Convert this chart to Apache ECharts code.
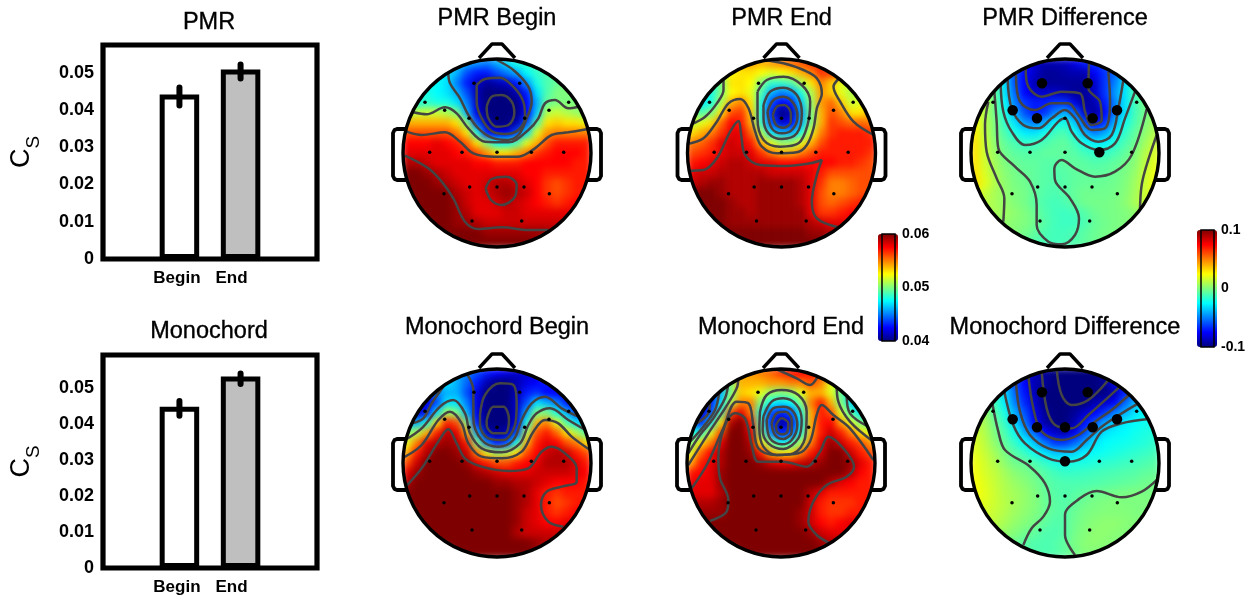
<!DOCTYPE html>
<html><head><meta charset="utf-8">
<style>html,body{margin:0;padding:0;background:#fff}#c{width:1250px;height:600px}
#c canvas[data-zr-dom-id="zr_0"]{filter:blur(3.6px)}</style>
<script src="https://cdn.jsdelivr.net/npm/echarts@6/dist/echarts.min.js"></script>
</head><body><div id="c"></div>
<script>
// ---------- bar panels ----------
const barCategories = ['', '', 'Begin', '', 'End', '', ''];
const pmrMeans = {Begin: 0.0441, End: 0.0508};
const pmrErrors = {Begin: [0.0412, 0.0460], End: [0.0484, 0.0522]};
const monoMeans = {Begin: 0.0448, End: 0.0532};
const monoErrors = {Begin: [0.0423, 0.0464], End: [0.0511, 0.0540]};

// ---------- electrodes, shared by all scalp maps (x, y in map units) ----------
const electrodes = [[-69,209],[68,209],[-216,152],[215,152],[-157,128],[-84,104],[0,104],[83,104],[156,128],
  [-202,2],[-105,2],[0,2],[103,2],[200,2],[-159,-122],[-82,-102],[0,-102],[81,-102],[157,-122],[-75,-204],[74,-204]];
const pmrSignificant = [0,1,4,5,7,8,12];
const monoSignificant = [0,1,4,5,6,7,8,11];

// ---------- scalp values, in thousandths, rows from front to back ----------
const pmrBegin = [
[47,46,45.5,45,46,47,48,48.5,49],
[47.5,47,46,44,43,43,44,45,46,47.5,48.5,49,49.5],
[48,47.5,47,45,43,41.5,40.5,41,41.5,43,45.5,48,49,49.5,50],
[48,48,47.5,47,46,44,41,40,40,40,41,43,47,49,50,50,50],
[49,48,48.5,48,48,47,45,41.5,40,40,40,40,42.5,46,49.5,50,50,50,50],
[50,51.5,51.5,51.5,51,50,46,42,40,40,40,40,42.5,46.5,51,51.5,51,50.5,50],
[54,54,54,54,54,53,50,44,41,40,40,41,44,49,53,53.5,53,53,52],
[56,56,56,56,56,55,53,48,43,42,42,44,47,52,54.5,55,55,55,55],
[57.5,57.5,57.5,58,57.5,57,55.5,53,50,47.5,47.5,49,52,54,56,57,57,57,57],
[58,58,58,58,58,57.5,57,56,54.5,53,53,54,55,56.5,57,57.5,57.5,57.5,57],
[59,59,58.5,58,58,58,58,57.5,57.5,57,57,57,57.5,57.5,57.5,57.5,57.5,57,57],
[60,60,59.5,59,58.5,58,58,58,58,58,58,58,57.5,57.5,57,57,57,57,57],
[60,60,60,59.5,59,58.5,58,58,58.5,59,59,58.5,58,57.5,56.5,56,56.5,57,57],
[60,60,60,60,60,59,58.5,58,58.5,59,59.5,59,58.5,57.5,56.5,56,56.5,57,57],
[60,60,60,60,60,59.5,58.5,58,58,58.5,59,58.5,58,57.5,57,56.5,57,57.5,57.5],
[60,60,60,60,59.5,59,58,58,58,58.5,58.5,58,58,58,58,58,58],
[60,60,60,59.5,59.5,59,58.5,58.5,58.5,58.5,58.5,58.5,58.5,58.5,58.5],
[60,60,60,60,60,59.5,59.5,59.5,59.5,59.5,59.5,59.5,59],
[60,60,60,60,60,60,60,60,59.5]];
const pmrEnd = [
[54,54.5,54,54.5,55,55.5,56,56.5,57],
[51,52.5,53,53,52.5,52,52.5,53,54,55,56.5,56.5,56],
[48,50,53,53,52.5,50,48.5,48.5,49,51,53,55,53.5,52,51],
[47,48,50,52.5,53,52,49,46,45,45.5,48,51,54.5,53.5,52,51,51],
[46,47,48,51,54,55,53,48,44,42.5,43,46.5,50.5,54.5,55.5,53.5,51.5,52,53],
[51,49,50,53,56,56.5,53.5,48,43,40,41,45.5,50,54,56,55,53,53,54],
[51,52,53,55.5,57.5,57,54,48.5,44,41.5,42.5,46,50,54,56.5,56,55.5,55.5,55],
[53,54,55,56.5,58,58,55.5,51,47,46,46,48,52,55,56.5,57,57,57,56.5],
[55,55.5,56.5,58,58.5,58,57,54,52,50.5,50.5,52,54,56,57,57,57,57,57],
[56,56.5,57,58,58.5,58.5,58,56.5,55,54,54,55,56,57,57,57,57,57,56.5],
[57,57.5,58,58.5,59,59,58.5,58,58,57.5,57.5,57.5,57.5,57.5,57.5,57,57,56.5,56],
[58,58.5,58.5,59,59,59,59,59,58.5,58.5,58.5,58.5,58,57,56,56,56,56,56],
[58.5,59,59.5,59.5,59,59,59,59.5,59.5,59.5,59.5,59,58,56.5,55,55,55.5,56,56],
[60,60,60,59.5,59,59,59,59.5,59.5,59.5,59.5,59,58,56,55,55,55.5,56,56],
[60,60,60,60,59.5,59,59,59.5,59.5,59.5,59.5,59,58,56,55.5,56,56.5,57,57],
[60,60,60,59.5,59.5,59,59.5,59.5,59.5,59.5,59.5,58,56.5,56.5,57,57.5,57.5],
[60,60,59.5,59.5,59.5,59.5,59.5,59.5,59.5,59.5,59,58.5,58,58,58],
[60,60,60,60,60,60,60,60,60,59.5,59.5,59,59],
[60,60,60,60,60,60,60,60,60]];
const pmrDiff = [
[-75,-85,-90,-90,-88,-80,-70,-65,-60],
[-35,-60,-75,-85,-95,-95,-92,-90,-90,-75,-65,-55,-40],
[-10,-30,-60,-75,-90,-95,-95,-95,-95,-95,-85,-65,-50,-30,-15],
[5,-5,-30,-55,-75,-85,-85,-85,-90,-95,-95,-85,-65,-45,-30,-10,-5],
[22,15,-3,-25,-50,-65,-70,-70,-65,-65,-80,-95,-90,-70,-50,-30,-12,-2,3],
[22,10,-3,-20,-40,-60,-70,-65,-50,-40,-55,-85,-95,-75,-50,-30,-12,-3,5],
[25,12,0,-15,-30,-45,-50,-40,-25,-20,-35,-60,-75,-65,-40,-22,-10,0,8],
[28,13,0,-10,-20,-28,-30,-22,-12,-10,-22,-40,-50,-42,-28,-15,-6,3,10],
[30,15,3,-6,-10,-15,-14,-10,-7,-6,-12,-22,-28,-27,-18,-10,-4,6,15],
[30,15,5,-3,-7,-8,-8,-6,-6,-6,-8,-12,-15,-15,-11,-6,0,10,18],
[30,16,7,0,-4,-6,-6,-8,-8,-6,-6,-7,-9,-8,-6,-3,2,12,20],
[30,18,8,2,-2,-5,-6,-8,-9,-8,-6,-6,-6,-6,-4,-1,4,14,22],
[32,20,10,3,-1,-3,-6,-8,-9,-8,-6,-5,-5,-4,-3,0,6,15,22],
[22,14,8,4,0,-2,-6,-9,-10,-8,-5,-3,-3,-3,-2,1,7,15,20],
[16,12,8,4,1,-2,-7,-10,-12,-10,-6,-3,-2,-2,-1,2,8,15,18],
[10,8,6,3,0,-4,-9,-12,-13,-12,-8,-4,-2,-1,0,3,8],
[5,4,2,0,-3,-8,-12,-13,-13,-10,-5,-3,-1,0,2],
[3,1,-2,-6,-10,-12,-12,-10,-7,-4,-2,-1,0],
[-6,-9,-11,-12,-11,-9,-6,-4,-2]];
const monoBegin = [
[46,45,44,43,42.5,42,41.5,41.5,42],
[47,47,46,44.5,43,41,40,40,41,42,42.5,43,43],
[42,45,46,46,44,42,40,40,40,41,43,43.5,42.5,42.5,42],
[41,42,44,47,47,45,42,40,40,40,41.5,44,47,46,45,43,42],
[41,41.5,43,47,51,50,46,42,40,40,40,41.5,46,50,50,48,46,44,43],
[46,46,48,53,57,56,50,43,40,40,40,42,48,54,55,52,49,47,46],
[50,51,54,57,59,58,54,46,41,40.5,41,44,51,56,57,55.5,53,51,49],
[52,55,58,59,59.5,59,57,50,45,43,44,48,54,57,58,57.5,56,55,53],
[54,57,59,60,60,59.5,58.5,55,52,50.5,51,53,56,57.5,58.5,59,58.5,57,56],
[56,58.5,60,60,60,60,59.5,58,57,56,56,57,57.5,58,59,59,59,58,57],
[58,59.5,60,60,60,60,60,59.5,59,58.5,58,58,58,58.5,58.5,58.5,58.5,58,57.5],
[59,60,60,60,60,60,60,60,60,59.5,59.5,59,59,58.5,58,57.5,57.5,57.5,57],
[60,60,60,60,60,60,60,60,60,60,60,59.5,59,58,57,56.5,57,57,57],
[60,60,60,60,60,60,60,60,60,60,60,59.5,59,58,57,56,56.5,57,57],
[60,60,60,60,60,60,60,60,60,60,60,59.5,58.5,58,57,56.5,57,57.5,57.5],
[60,60,60,60,60,60,60,60,60,60,59.5,58.5,58,57.5,57.5,58,58],
[60,60,60,60,60,60,60,60,60,59,58.5,58.5,58.5,58.5,58.5],
[60,60,60,60,60,60,60,60,60,60,59.5,59,59],
[60,60,60,60,60,60,60,60,59.5]];
const monoEnd = [
[54,54.5,55,55.5,56.5,57,57.5,57,56.5],
[46,50,54,54,54,54.5,54.5,55,55,56,55,52,50],
[43,46,50,53.5,53,52,50.5,50,50.5,52,54,54,52,49.5,47],
[41,43,47,51,55,55,50,47.5,47,47.5,50,55,57,54,50,47,45],
[42,41.5,44,49,56,58,55,48,44,43,44,48,54,57,56,52,49,47,47],
[46,43,47,53,59,60,57,49,43.5,40.5,42,47,54,57,57.5,54.5,52,50,49],
[48,48,52,56,60,60,58,50,45,43,44,48,54,57,58.5,57,55,53,52],
[50,53,55,58,60,60,59,53,50,47.5,48.5,51,55,58,59.5,58.5,57,56,54.5],
[52,55.5,57.5,59,60,60,59.5,57,54,53,53,55,57,58.5,60,60,58.5,57,56],
[54,57,58,59,60,60,60,59.5,58.5,58,58,58.5,59,59.5,60,60,59.5,58,57],
[57,57.5,58,59.5,60,60,60,60,60,60,60,60,60,60,60,60,59,57.5,57],
[58,58,58,59.5,60,60,60,60,60,60,60,60,60,60,59,58,57.5,57,57],
[58,58,58,59,60,60,60,60,60,60,60,60,59,58,57,57,57,57,57],
[59,59,59,59.5,60,60,60,60,60,60,60,60,58.5,57,56.5,56.5,56.5,57,57],
[59.5,59.5,59.5,59.5,60,60,60,60,60,60,60,59.5,58.5,57,56.5,56.5,57,57,57.5],
[60,60,60,60,60,60,60,60,60,60,59.5,58.5,57.5,57,57.5,58,58],
[60,60,60,60,60,60,60,60,60,60,59.5,58.5,58,58,58],
[60,60,60,60,60,60,60,60,60,60,59.5,59,59],
[60,60,60,60,60,60,60,60,60]];
const monoDiff = [
[-85,-90,-95,-100,-100,-100,-100,-100,-100],
[-40,-60,-75,-90,-95,-100,-100,-100,-100,-100,-95,-80,-70],
[-15,-32,-55,-72,-90,-100,-100,-100,-100,-100,-100,-100,-90,-70,-50],
[0,-12,-28,-50,-68,-85,-100,-100,-100,-100,-100,-90,-85,-75,-55,-40,-30],
[10,5,-8,-20,-40,-60,-80,-95,-100,-100,-95,-85,-75,-65,-50,-40,-30,-24,-22],
[12,8,-3,-15,-32,-52,-75,-92,-100,-100,-90,-72,-58,-42,-34,-28,-25,-22,-20],
[16,10,0,-10,-22,-40,-55,-75,-85,-90,-78,-60,-42,-30,-27,-25,-22,-20,-18],
[18,12,3,-6,-15,-25,-37,-52,-65,-65,-55,-42,-30,-25,-23,-22,-20,-18,-15],
[20,14,7,-1,-8,-14,-22,-30,-36,-36,-32,-27,-24,-22,-20,-18,-16,-14,-12],
[22,16,10,3,-3,-5,-10,-15,-20,-22,-20,-20,-18,-16,-15,-13,-12,-10,-8],
[23,17,13,7,2,-1,-4,-8,-12,-14,-14,-13,-12,-11,-10,-9,-8,-6,-5],
[24,19,14,9,5,2,-2,-6,-9,-10,-10,-10,-9,-8,-7,-6,-5,-3,-2],
[24,20,15,10,7,4,0,-5,-8,-9,-8,-6,-4,-3,-2,-1,0,-1,-1],
[22,19,15,11,7,4,1,-4,-7,-8,-6,-3,-1,0,1,0,0,0,0],
[20,17,14,10,6,3,0,-4,-7,-8,-4,-1,0,1,1,1,0,0,0],
[16,12,8,4,1,-2,-6,-9,-8,-3,0,2,3,3,2,1,0],
[8,4,1,-3,-6,-9,-10,-8,-2,1,3,3,2,1,0],
[-2,-4,-7,-9,-10,-9,-6,-1,2,3,2,1,0],
[-8,-9,-10,-9,-6,-2,1,1,0]];

// ---------- contour lines (x, y in map units) ----------
const pmrBeginContours = [
[[-1,279],[49,249],[94,199],[104,154],[89,104],[64,54],[29,39],[-16,46],[-56,74],[-86,114],[-111,164],[-141,209],[-146,239]],
[[-61,204],[-36,222],[9,226],[49,199],[79,154],[84,109],[64,69],[24,57],[-16,66],[-46,104],[-61,154],[-61,204]],
[[-31,139],[-16,169],[14,174],[44,154],[52,119],[34,84],[-1,79],[-26,104],[-31,139]],
[[-251,122],[-211,116],[-156,137],[-121,119],[-86,74],[-36,34],[34,32],[94,69],[124,104],[144,149],[174,159],[214,134],[244,139]],
[[-271,64],[-226,54],[-156,62],[-111,34],[-71,-1],[-6,-11],[64,-11],[114,14],[164,54],[214,62],[269,71]],
[[-276,-8],[-206,-46],[-166,-86],[-131,-136],[-96,-206],[-56,-228],[14,-223],[94,-231],[154,-231]],
[[-34,-106],[-16,-78],[29,-71],[59,-96],[54,-131],[14,-156],[-18,-141],[-34,-106]]];
const pmrEndContours = [
[[-174,224],[-174,189],[-194,149],[-229,109],[-269,87]],
[[-282,27],[-234,44],[-194,94],[-159,149],[-124,162],[-99,134],[-79,64],[-59,19],[-14,-1],[46,2],[76,24],[96,74],[106,134],[121,179],[106,224],[66,249],[6,269],[-54,279]],
[[171,222],[156,199],[176,154],[216,94],[276,54]],
[[-277,-53],[-234,-51],[-194,-16],[-154,64],[-129,96],[-121,54],[-109,-6],[-64,-36],[16,-39],[86,-31],[121,-21],[106,-66],[91,-146],[106,-196],[171,-223]],
[[-72,184],[-44,219],[6,229],[61,204],[86,154],[78,84],[51,29],[-4,19],[-54,39],[-72,104],[-72,184]],
[[-54,144],[-34,184],[6,196],[46,174],[61,119],[46,59],[1,42],[-39,59],[-54,104],[-54,144]],
[[-42,124],[-24,159],[6,169],[36,149],[48,109],[31,69],[1,59],[-29,74],[-42,124]],
[[-26,114],[-14,139],[8,144],[28,119],[28,94],[6,76],[-16,84],[-26,114]]];
const pmrDiffContours = [
[[-230,154],[-240,84],[-235,4],[-205,-76],[-182,-136],[-185,-206]],
[[-212,184],[-205,94],[-200,14],[-150,-41],[-105,-86],[-85,-156],[-85,-216],[-50,-266],[-10,-274],[30,-246],[42,-196],[15,-136],[-30,-81],[-32,-46],[-10,-21],[30,-46],[90,-71],[150,-56],[200,-6],[245,132]],
[[275,54],[245,-36],[230,-96],[225,-166]],
[[-193,204],[-185,124],[-160,64],[-120,24],[-70,39],[-20,94],[0,104],[20,64],[50,29],[100,9],[150,29],[180,104],[210,184]],
[[-172,219],[-160,134],[-125,84],[-80,74],[-40,104],[0,129],[30,104],[60,54],[100,34],[140,54],[160,134],[175,219]],
[[-147,234],[-135,154],[-90,129],[-40,149],[10,149],[40,114],[80,69],[120,74],[135,154],[130,244]],
[[-118,254],[-110,199],[-70,169],[-10,184],[45,179],[60,124],[80,84],[110,99],[105,154],[70,194],[72,269]]];
const monoBeginContours = [
[[-91,266],[-71,216],[-71,131],[-46,66],[4,46],[49,66],[74,126],[104,176],[144,196],[194,161],[244,136]],
[[-51,141],[-36,201],[9,236],[49,231],[59,171],[54,111],[19,66],[-26,71],[-51,111],[-51,141]],
[[-31,126],[-11,166],[19,166],[36,126],[24,86],[-11,86],[-31,111],[-31,126]],
[[-161,226],[-196,176],[-221,131],[-256,116]],
[[-281,63],[-226,101],[-171,166],[-131,186],[-96,146],[-81,86],[-46,41],[14,29],[69,56],[94,111],[119,146],[159,161],[214,126],[274,91]],
[[-281,13],[-226,51],[-176,126],[-141,151],[-106,116],[-86,56],[-46,16],[14,11],[74,31],[109,91],[144,126],[184,116],[224,76],[279,36]],
[[-271,-71],[-226,-19],[-176,61],[-146,98],[-121,56],[-96,11],[-46,-14],[34,-27],[94,-19],[134,31],[164,46],[204,26],[239,-19],[239,-59],[194,-74],[149,-89],[132,-129],[154,-179],[199,-194]]];
const monoEndContours = [
[[-15,279],[47,251],[87,231],[110,256]],
[[-128,251],[-133,221],[-168,161],[-218,86],[-278,-9]],
[[-158,236],[-168,191],[-203,131],[-243,81],[-278,26]],
[[-185,211],[-198,156],[-233,106],[-273,61]],
[[-213,186],[-218,146],[-253,116]],
[[-268,-79],[-223,-9],[-173,101],[-133,181],[-98,176],[-83,111],[-68,41],[-13,21],[52,26],[87,61],[107,141],[122,171],[157,141],[207,101],[277,6]],
[[-213,-177],[-163,-149],[-158,-114],[-183,-49],[-188,11],[-168,111],[-138,146],[-108,131],[-88,51],[-68,1],[7,1],[77,-14],[117,31],[142,76],[187,41],[219,-14],[197,-44],[137,-69],[97,-119],[82,-179],[107,-219],[147,-244]],
[[167,231],[172,181],[207,121],[277,61]],
[[197,201],[207,146],[262,106]],
[[-63,151],[-43,201],[2,216],[52,201],[77,151],[72,71],[37,26],[-13,21],[-53,46],[-65,101],[-63,151]],
[[-53,136],[-28,181],[7,191],[47,171],[62,126],[52,71],[7,39],[-38,56],[-55,96],[-53,136]],
[[-43,126],[-23,161],[7,166],[37,151],[49,111],[32,66],[2,53],[-33,71],[-43,126]],
[[-28,116],[-13,146],[12,151],[32,126],[32,91],[7,69],[-18,81],[-28,116]],
[[-15,111],[2,131],[22,116],[19,91],[2,83],[-13,93],[-15,111]]];
const monoDiffContours = [
[[-218,176],[-200,91],[-180,36],[-105,-14],[-60,-64],[-45,-119],[-65,-164],[-100,-199],[-125,-249]],
[[30,-279],[0,-219],[0,-159],[45,-109],[95,-87],[170,-106],[230,-89],[280,-49]],
[[-182,211],[-155,111],[-120,56],[-50,11],[10,1],[65,21],[110,91],[170,116],[250,129]],
[[-147,239],[-135,151],[-105,81],[-50,41],[20,31],[65,66],[110,106],[170,146],[220,176]],
[[-110,259],[-95,161],[-70,91],[-10,66],[40,81],[90,121],[140,156],[192,201]],
[[-70,271],[-55,161],[-30,111],[20,101],[70,141],[165,226]],
[[-25,279],[-10,201],[20,171],[70,186],[130,246]]];

// ---------- colour bar ticks ----------
const levelRange = [0.04, 0.06, 0.01];
const differenceRange = [-0.1, 0.1, 0.1];

// ---------- layout and styling ----------
const FONT = '"Liberation Sans", Arial, sans-serif';
const JET = ['#00007f','#0000ff','#007fff','#00ffff','#7fff7f','#ffff00','#ff7f00','#ff0000','#7f0000'];
const FILLS = {Begin:'#ffffff', End:'#bfbfbf'};
const CELLS = 19, CELL = 10, HALF = 100, TOP = 1;
const maps = [
 {title:'PMR Begin',  rows:pmrBegin, contours:pmrBeginContours, cx:497, cy:153, kind:0},
 {title:'PMR End',    rows:pmrEnd,   contours:pmrEndContours,   cx:781.5, cy:153, kind:0},
 {title:'PMR Difference', rows:pmrDiff, contours:pmrDiffContours, cx:1065, cy:153, kind:1, big:pmrSignificant},
 {title:'Monochord Begin', rows:monoBegin, contours:monoBeginContours, cx:497, cy:463, kind:0},
 {title:'Monochord End', rows:monoEnd, contours:monoEndContours, cx:781, cy:463, kind:0},
 {title:'Monochord Difference', rows:monoDiff, contours:monoDiffContours, cx:1065, cy:463, kind:1, big:monoSignificant}];

const grids=[], xAxes=[], yAxes=[], series=[], titles=[], graphics=[];
const heatIdx=[[],[]];
const T=(text,x,top,size)=>titles.push({text,left:x,top,textAlign:'center',padding:0,z:20,zlevel:TOP,
  textStyle:{fontFamily:FONT,fontSize:size,fontWeight:'normal',color:'#000',textBorderColor:'#000',textBorderWidth:0.35}});
function addGrid(g,x,y,zlevel){g.zlevel=zlevel;grids.push(g);
  xAxes.push(Object.assign({gridIndex:grids.length-1,zlevel},x));yAxes.push(Object.assign({gridIndex:grids.length-1,zlevel},y));return grids.length-1;}

function barPanel(title,means,errors,top,h,ymax,titleTop,labelPad){
  T(title,209,titleTop,23.5);
  const g=addGrid({left:103,top,width:214,height:h,show:true,borderColor:'#000',borderWidth:5.2,backgroundColor:'#fff',z:1},
   {type:'category',data:barCategories,axisLine:{show:false},axisTick:{show:false},
    axisLabel:{interval:0,margin:11,color:'#000',fontFamily:FONT,fontSize:17,fontWeight:'bold',
      formatter:v=>v==='Begin'?'{b|Begin}':v==='End'?'{e|End}':'',
      rich:{b:{fontFamily:FONT,fontSize:17,fontWeight:'bold',color:'#000',padding:[0,5,0,0]},e:{fontFamily:FONT,fontSize:17,fontWeight:'bold',color:'#000',padding:[0,18,0,0]}}}},
   {type:'value',min:0,max:ymax,interval:0.01,splitLine:{show:false},axisLine:{show:false},axisTick:{show:false},
    name:'{c|C}{s|S}',nameLocation:'middle',nameRotate:90,nameGap:60,
    nameTextStyle:{rich:{c:{fontFamily:FONT,fontSize:27,color:'#000'},s:{fontFamily:FONT,fontSize:19,color:'#000',padding:[24,0,0,0]}}},
    axisLabel:{showMaxLabel:false,margin:9,padding:[labelPad,0,0,0],color:'#000',fontFamily:FONT,fontSize:18,fontWeight:'bold',formatter:v=>String(+v.toFixed(2))}},TOP);
  series.push({type:'bar',xAxisIndex:g,yAxisIndex:g,barWidth:39.5,z:3,zlevel:TOP,
    data:barCategories.map(c=>c?{value:means[c],itemStyle:{color:FILLS[c],borderColor:'#000',borderWidth:5}}:null)});
  series.push({type:'custom',xAxisIndex:g,yAxisIndex:g,z:4,zlevel:TOP,encode:{x:0,y:[1,2]},
    data:barCategories.map((c,i)=>c?[i,errors[c][0],errors[c][1]]:null).filter(Boolean),
    renderItem:(p,api)=>{const a=api.coord([api.value(0),api.value(1)]),b=api.coord([api.value(0),api.value(2)]);
      return {type:'line',shape:{x1:a[0],y1:a[1],x2:b[0],y2:b[1]},style:{stroke:'#000',lineWidth:6,lineCap:'round'}};}});
}
barPanel('PMR',pmrMeans,pmrErrors,45,214,0.0574,11,3);
barPanel('Monochord',monoMeans,monoErrors,355,213,0.05917,320,4);

maps.forEach(m=>{
  T(m.title,m.cx,m.cy<300?7:316,23.5);
  const cats=Array.from({length:CELLS},(_,i)=>i);
  const hg=addGrid({left:m.cx-CELLS*CELL/2,top:m.cy-CELLS*CELL/2,width:CELLS*CELL,height:CELLS*CELL},
    {type:'category',data:cats,show:false},{type:'category',data:cats,show:false,inverse:true},0);
  const cells=[];
  m.rows.forEach((row,r)=>{const off=(CELLS-row.length)/2;row.forEach((v,c)=>cells.push([c+off,r,v/1000]));});
  heatIdx[m.kind].push(series.length);
  series.push({type:'heatmap',xAxisIndex:hg,yAxisIndex:hg,data:cells,z:2,zlevel:0,progressive:0,silent:true});
  const lgTop=m.cy-HALF-(m.cy>300?1:0);
  const lg=addGrid({left:m.cx-HALF,top:lgTop,width:2*HALF,height:2*HALF},
    {type:'value',min:-300,max:300,show:false},{type:'value',min:-300,max:300,show:false},TOP);
  m.contours.forEach(path=>series.push({type:'line',xAxisIndex:lg,yAxisIndex:lg,data:path,z:3,zlevel:TOP,smooth:0.35,showSymbol:false,symbol:'none',silent:true,clip:false,
    lineStyle:{color:'#444',width:2.5}}));
  series.push({type:'scatter',xAxisIndex:lg,yAxisIndex:lg,z:4,zlevel:TOP,symbolSize:3.5,silent:true,itemStyle:{color:'#000',opacity:1},data:electrodes});
  if(m.big) series.push({type:'scatter',xAxisIndex:lg,yAxisIndex:lg,z:4,zlevel:TOP,symbolSize:10.5,silent:true,itemStyle:{color:'#000',opacity:1},data:m.big.map(i=>electrodes[i])});
  const outline={stroke:'#000',lineWidth:3.4,fill:null,lineJoin:'round'};
  const earStyle={stroke:'#000',lineWidth:3.8,fill:null,lineJoin:'round'};
  const ear=s=>({type:'polyline',z:7,zlevel:TOP,silent:true,shape:{points:[[s*91,-24],[s*100,-24],[s*102.5,-23],[s*104,-20],[s*104,23],[s*102.5,26],[s*100,27],[s*91,27]]},style:earStyle});
  graphics.push({type:'group',x:m.cx,y:m.cy,z:6,zlevel:TOP,children:[
    {type:'circle',z:6,zlevel:TOP,silent:true,shape:{cx:0,cy:0,r:107},style:{stroke:'#fff',lineWidth:26,fill:null}},
    {type:'circle',z:7,zlevel:TOP,silent:true,shape:{cx:0,cy:0,r:94},style:outline},
    {type:'polyline',z:7,zlevel:TOP,silent:true,shape:{points:[[-18,-95],[-5,-109],[5,-109],[18,-95]]},style:outline},
    ear(-1),ear(1)]});
});

function colorBar(range,left,top,h,digits,pad){
  return addGrid({left:left+4,top,width:13,height:h,show:true,borderColor:'#000',borderWidth:1.5,backgroundColor:'transparent',z:10},
    {type:'value',min:0,max:1,show:false},
    {type:'value',position:'right',min:range[0],max:range[1],interval:range[2],splitLine:{show:false},axisLine:{show:false},axisTick:{show:false},z:10,
     axisLabel:{margin:7,padding:[pad,0,0,0],color:'#000',fontFamily:FONT,fontSize:14,fontWeight:'bold',formatter:v=>digits?v.toFixed(digits):String(Math.abs(v)<1e-9?0:+v.toFixed(1))}},TOP);
}
colorBar(levelRange,878,234,107,2,3);
colorBar(differenceRange,1197,230,117,0,2);

const vm=(range,left,top,h,idx)=>({type:'continuous',min:range[0],max:range[1],seriesIndex:idx,left,top,itemWidth:20,itemHeight:h,zlevel:TOP,
  padding:0,text:null,calculable:false,hoverLink:false,realtime:false,showLabel:false,inRange:{color:JET},textStyle:{fontSize:0},z:4,handleSize:0,indicatorSize:0});

const chart=echarts.init(document.getElementById('c'),null,{renderer:'canvas',width:1250,height:600});
chart.setOption({animation:false,title:titles,grid:grids,xAxis:xAxes,yAxis:yAxes,series,
  visualMap:[vm(levelRange,878,234,107,heatIdx[0]),vm(differenceRange,1197,230,117,heatIdx[1])],
  graphic:{zlevel:TOP,elements:graphics}});
</script></body></html>
